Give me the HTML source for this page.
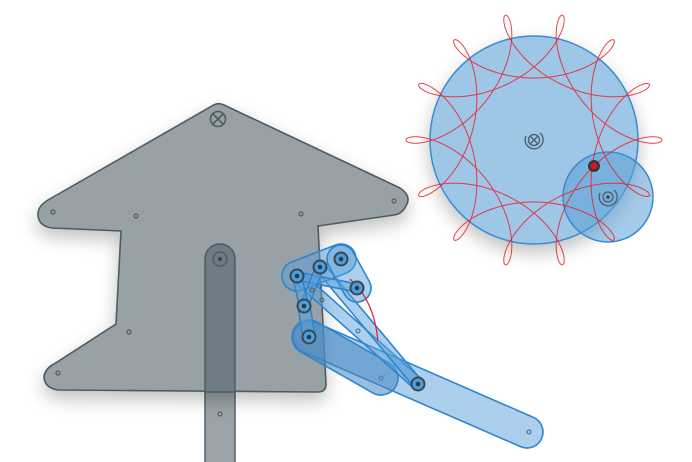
<!DOCTYPE html>
<html><head><meta charset="utf-8"><style>
html,body{margin:0;padding:0;background:#fff;width:692px;height:462px;overflow:hidden}
svg{display:block}
</style></head><body>
<svg id="scene" width="692" height="462" viewBox="0 0 692 462" xmlns="http://www.w3.org/2000/svg">
<defs>
<filter id="sh" x="-20%" y="-20%" width="140%" height="140%"><feGaussianBlur in="SourceAlpha" stdDeviation="9"/><feOffset dx="0" dy="8"/><feComponentTransfer><feFuncA type="linear" slope="0.25"/></feComponentTransfer><feMerge><feMergeNode/><feMergeNode in="SourceGraphic"/></feMerge></filter>
</defs>
<rect x="205" y="380" width="30" height="90" fill="#9aa3a7" stroke="#55636b" stroke-width="1.5"/>
<circle cx="220" cy="414" r="2" fill="none" stroke="#55636b" stroke-width="1.2"/>
<path filter="url(#sh)" d="M212,106 Q218,102 224,105 L400,188 Q412,196 406,206 Q402,214 394,215 L318,226 L326,384 Q326,392 318,392 L58,390 Q44,388 44,376 Q46,368 54,364 L116,324 L121,231 L52,228 Q38,226 38,214 Q38,206 48,200 Z" fill="#98a1a6" stroke="#4e5c64" stroke-width="1.6"/>
<g fill="none" stroke="#4e5c64" stroke-width="1.2">
<circle cx="53" cy="212" r="2"/><circle cx="136" cy="216" r="2"/><circle cx="301" cy="214" r="2"/><circle cx="394" cy="201" r="2"/><circle cx="129" cy="332" r="2"/><circle cx="58" cy="373" r="2"/><circle cx="381" cy="378" r="2"/>
</g>
<g fill="none" stroke="#4e5c64" stroke-width="1.6">
<circle cx="218" cy="119" r="7.5"/><path d="M213,114 L223,124 M223,114 L213,124"/>
</g>
<path d="M205,259 A15,15 0 0 1 235,259 L235,392 L205,392 Z" fill="#6f7b82" stroke="#4e5c64" stroke-width="1.5"/>
<circle cx="220" cy="259" r="7" fill="none" stroke="#4e5c64" stroke-width="1.6"/>
<circle cx="220" cy="259" r="2.2" fill="#3c474d"/>

<g id="links" stroke="#2f86cc" stroke-width="1.6" stroke-linecap="round" fill="none"></g>
<path d="M350,279 Q374,300 378,341" fill="none" stroke="#e8202a" stroke-width="1.2"/>
<g id="joints"></g>

<circle cx="534" cy="140" r="104" fill="#9ec6e6" stroke="#3a8ad0" stroke-width="1.5" filter="url(#sh)"/>
<circle cx="608" cy="197" r="45" fill="rgba(90,160,215,0.55)" stroke="#3a8ad0" stroke-width="1.5"/>
<path id="spiro" fill="none" stroke="#e8202a" stroke-width="1" opacity="0.85"/>
<g fill="none" stroke="#4e5c64" stroke-width="1.3">
<circle cx="534" cy="140" r="5.5"/><path d="M530,136 L538,144 M538,136 L530,144"/><path d="M526,136 A9,9 0 1 0 540,133" />
</g>
<g fill="none" stroke="#4e5c64" stroke-width="1.3">
<circle cx="608" cy="197" r="5"/><path d="M600,193 A9,9 0 1 0 614,190"/>
</g>
<circle cx="608" cy="197" r="1.8" fill="#3c474d"/>
<circle cx="594" cy="166" r="6" fill="#2d3a42"/>
<circle cx="594" cy="166" r="3.5" fill="#d8141c"/>
</svg>
<script>
const NS="http://www.w3.org/2000/svg";
const jointNames=["A","B","C","D","E","F","G"];
const jointX=[297,320,341,357,304,309,418];
const jointY=[276,267,259,288,306,337,384];
const J={};jointNames.forEach((n,i)=>J[n]=[jointX[i],jointY[i]]);
J.H=[527,432];J.K=[381,378];
const linkFrom=["F","F","A","B","A","C","A","B","A","E"];
const linkTo  =["H","K","G","G","C","D","D","E","E","F"];
const linkW   =[32,34,12,10,30,28,8,8,9,12];
const linksG=document.getElementById('links');
linkFrom.forEach((f,i)=>{
 const a=J[f],b=J[linkTo[i]],w=linkW[i];
 const dx=b[0]-a[0],dy=b[1]-a[1],L=Math.hypot(dx,dy),nx=-dy/L*w/2,ny=dx/L*w/2,r=w/2;
 const p=document.createElementNS(NS,'path');
 p.setAttribute('d',`M${a[0]+nx},${a[1]+ny} L${b[0]+nx},${b[1]+ny} A${r},${r} 0 0 0 ${b[0]-nx},${b[1]-ny} L${a[0]-nx},${a[1]-ny} A${r},${r} 0 0 0 ${a[0]+nx},${a[1]+ny} Z`);
 p.setAttribute('fill',i==1?'rgba(70,135,190,0.55)':'rgba(90,160,220,0.5)');
 
 
 linksG.appendChild(p);
});
const jg=document.getElementById('joints');
jointNames.forEach(n=>{
 const [x,y]=J[n];
 const c=document.createElementNS(NS,'circle');
 c.setAttribute('cx',x);c.setAttribute('cy',y);c.setAttribute('r',6.5);
 c.setAttribute('fill','#4a9fe0');c.setAttribute('stroke','#3c474d');c.setAttribute('stroke-width','2');
 
 
 jg.appendChild(c);
 const d=document.createElementNS(NS,'circle');
 d.setAttribute('cx',x);d.setAttribute('cy',y);d.setAttribute('r',2.3);d.setAttribute('fill','#2d3a42');
 
 
 jg.appendChild(d);
});
[[529,432],[358,331],[312,290],[322,300]].forEach(([x,y])=>{
 const c=document.createElementNS(NS,'circle');
 c.setAttribute('cx',x);c.setAttribute('cy',y);c.setAttribute('r',2);c.setAttribute('fill','none');c.setAttribute('stroke','#4e5c64');
 
 
 jg.appendChild(c);
});
// spirograph curve (hypotrochoid)
const spiroCenter=[534,140];
const spiroRadii=[95,33];
const spiroFreq=[1,-11/3];
const spiroTurns=3;
let d="";
const N=3000;
for(let k=0;k<=N;k++){
 const t=k/N*2*Math.PI*spiroTurns+Math.PI/2;
 const x=spiroCenter[0]+spiroRadii[0]*Math.cos(spiroFreq[0]*t)+spiroRadii[1]*Math.cos(spiroFreq[1]*t);
 const y=spiroCenter[1]-spiroRadii[0]*Math.sin(spiroFreq[0]*t)-spiroRadii[1]*Math.sin(spiroFreq[1]*t);
 d+=(k?"L":"M")+x.toFixed(1)+","+y.toFixed(1);
}
document.getElementById('spiro').setAttribute('d',d);
</script>
</body></html>
